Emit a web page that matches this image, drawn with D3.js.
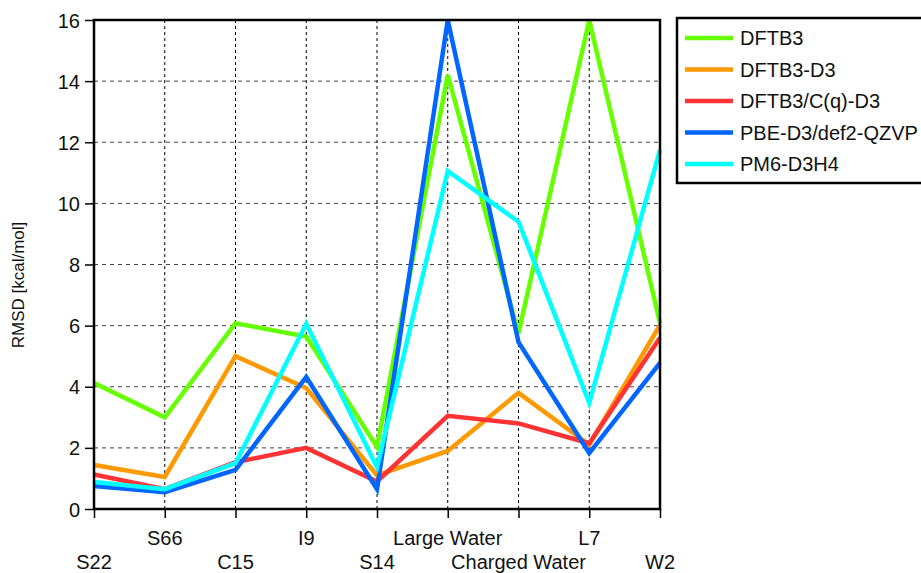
<!DOCTYPE html>
<html>
<head>
<meta charset="utf-8">
<script src="https://cdn.jsdelivr.net/npm/d3@7"></script>
<style>
  body { margin: 0; background: #fff; }
  text { font-family: "Liberation Sans", Arial, sans-serif; fill: #111; }
</style>
</head>
<body>
<svg></svg>
<script>
const categories = ["S22", "S66", "C15", "I9", "S14", "Large Water", "Charged Water", "L7", "W2"];
const seriesNames = ["DFTB3", "DFTB3-D3", "DFTB3/C(q)-D3", "PBE-D3/def2-QZVP", "PM6-D3H4"];
const dftb3 = [4.12, 3.0, 6.08, 5.64, 2.03, 14.2, 5.75, 16.0, 6.08];
const dftb3d3 = [1.44, 1.05, 5.0, 3.96, 1.1, 1.9, 3.8, 2.1, 6.02];
const dftb3cq = [1.13, 0.65, 1.53, 2.0, 0.9, 3.05, 2.8, 2.15, 5.6];
const pbe = [0.75, 0.55, 1.28, 4.32, 0.65, 16.0, 5.46, 1.83, 4.78];
const pm6 = [0.88, 0.65, 1.5, 6.06, 1.37, 11.06, 9.4, 3.47, 11.75];
const colors = ["#66ff00", "#ff9900", "#ff3333", "#0066ff", "#00ffff"];
const yTicks = [0, 2, 4, 6, 8, 10, 12, 14, 16];

const W = 921, H = 573;
const margin = {left: 94, right: 261, top: 20, bottom: 64};

const svg = d3.select("svg").attr("width", W).attr("height", H);

const x = d3.scalePoint().domain(categories).range([margin.left, W - margin.right]);
const y = d3.scaleLinear().domain([0, 16]).range([H - margin.bottom, margin.top]);

// grid
svg.append("g").selectAll("line").data(categories.slice(1, -1)).enter().append("line")
  .attr("x1", d => x(d)).attr("x2", d => x(d))
  .attr("y1", y(16)).attr("y2", y(0))
  .attr("stroke", "#000").attr("stroke-width", 1).attr("stroke-dasharray", "3,3");
svg.append("g").selectAll("line").data(yTicks.slice(1, -1)).enter().append("line")
  .attr("x1", x.range()[0]).attr("x2", x.range()[1])
  .attr("y1", d => y(d)).attr("y2", d => y(d))
  .attr("stroke", "#444").attr("stroke-width", 1).attr("stroke-dasharray", "4,4");

// series
const allSeries = [dftb3, dftb3d3, dftb3cq, pbe, pm6];
const line = d3.line().x((d, i) => x(categories[i])).y(d => y(d));
const plot = svg.append("g");
plot.selectAll("path").data(allSeries).enter().append("path")
  .attr("d", line).attr("fill", "none")
  .attr("stroke", (d, i) => colors[i]).attr("stroke-width", 4.5)
  .attr("stroke-linejoin", "miter");

// axes
const yAxis = d3.axisLeft(y).tickValues(yTicks).tickSize(9).tickPadding(5);
const gy = svg.append("g").attr("transform", `translate(${margin.left},0)`).call(yAxis);
gy.select(".domain").remove();
gy.selectAll(".tick line").attr("stroke-width", 1.5);
gy.selectAll("text").style("font-size", "20px").attr("dy", "0.35em");

const xAxis = d3.axisBottom(x).tickSize(9).tickFormat("");
const gx = svg.append("g").attr("transform", `translate(0,${y(0)})`).call(xAxis);
gx.select(".domain").remove();
gx.selectAll(".tick line").attr("stroke-width", 1.5);

svg.append("g").selectAll("text").data(categories).enter().append("text")
  .attr("x", d => x(d))
  .attr("y", (d, i) => i % 2 === 0 ? 569 : 545)
  .attr("text-anchor", "middle")
  .style("font-size", "20px")
  .text(d => d);

// frame
svg.append("rect")
  .attr("x", x.range()[0]).attr("y", y(16))
  .attr("width", x.range()[1] - x.range()[0]).attr("height", y(0) - y(16))
  .attr("fill", "none").attr("stroke", "#000").attr("stroke-width", 2.5);

svg.append("text")
  .attr("transform", `translate(24,285) rotate(-90)`)
  .attr("text-anchor", "middle")
  .style("font-size", "17px")
  .text("RMSD [kcal/mol]");

// legend
const legend = svg.append("g").attr("transform", "translate(677,18)");
legend.append("rect").attr("width", 260).attr("height", 165)
  .attr("fill", "#fff").attr("stroke", "#000").attr("stroke-width", 2.5);
const items = legend.selectAll("g").data(seriesNames).enter().append("g")
  .attr("transform", (d, i) => `translate(0,${20 + i * 31.5})`);
items.append("line").attr("x1", 8).attr("x2", 56)
  .attr("stroke", (d, i) => colors[i]).attr("stroke-width", 4.5);
items.append("text").attr("x", 63).attr("dy", "0.35em")
  .style("font-size", "20px").text(d => d);
</script>
</body>
</html>
